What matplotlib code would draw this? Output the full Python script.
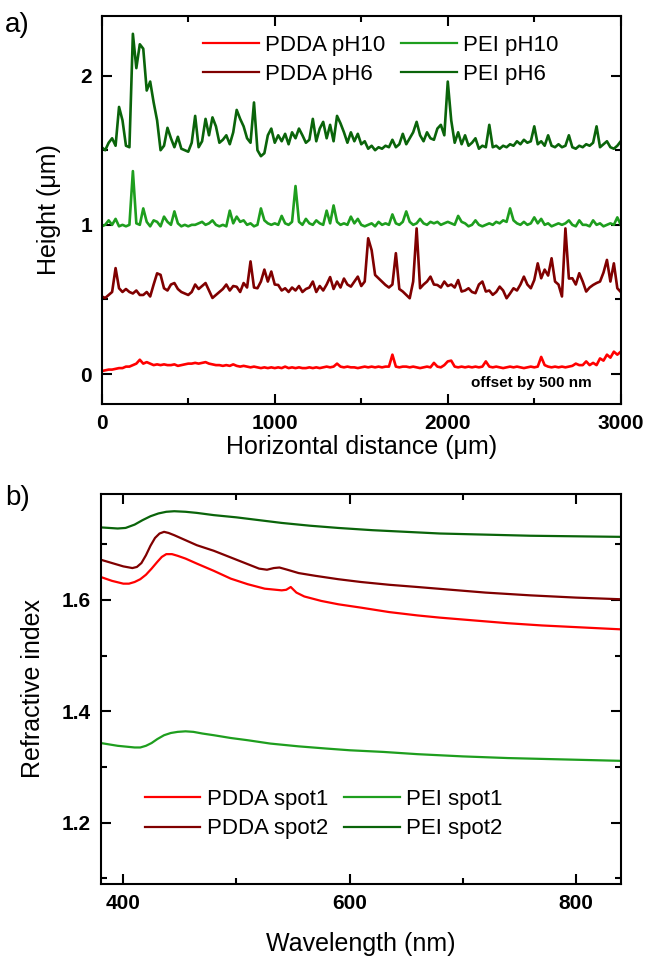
import numpy as np
import matplotlib
matplotlib.use("Agg")
import matplotlib.pyplot as plt
from matplotlib.ticker import MultipleLocator

plt.rcParams['font.family'] = ['Liberation Sans', 'DejaVu Sans']

# ---- panel a) height profiles, sampled every 20 um ----
dist = np.arange(0, 3001, 20)

pdda_ph10 = [0.02, 0.025, 0.03, 0.03, 0.035, 0.04, 0.04, 0.05, 0.05, 0.06,
             0.07, 0.096, 0.07, 0.08, 0.07, 0.06, 0.065, 0.06, 0.065, 0.06,
             0.06, 0.065, 0.055, 0.06, 0.065, 0.07, 0.07, 0.075, 0.07, 0.075,
             0.08, 0.07, 0.065, 0.06, 0.06, 0.055, 0.06, 0.055, 0.065, 0.055,
             0.05, 0.055, 0.05, 0.045, 0.05, 0.045, 0.04, 0.045, 0.04, 0.045,
             0.04, 0.045, 0.04, 0.05, 0.04, 0.045, 0.04, 0.045, 0.04, 0.04,
             0.045, 0.04, 0.045, 0.04, 0.045, 0.05, 0.045, 0.05, 0.07, 0.05,
             0.045, 0.05, 0.045, 0.045, 0.04, 0.045, 0.05, 0.045, 0.05, 0.045,
             0.05, 0.045, 0.05, 0.05, 0.13, 0.05, 0.045, 0.05, 0.05, 0.045,
             0.05, 0.045, 0.04, 0.045, 0.05, 0.045, 0.075, 0.05, 0.045, 0.06,
             0.085, 0.09, 0.05, 0.045, 0.05, 0.045, 0.05, 0.045, 0.05, 0.045,
             0.05, 0.085, 0.05, 0.045, 0.05, 0.045, 0.04, 0.045, 0.05, 0.045,
             0.05, 0.045, 0.04, 0.045, 0.05, 0.045, 0.05, 0.115, 0.06, 0.05,
             0.045, 0.05, 0.045, 0.05, 0.045, 0.05, 0.055, 0.07, 0.06, 0.06,
             0.085, 0.06, 0.075, 0.06, 0.105, 0.09, 0.13, 0.11, 0.15, 0.13,
             0.15]

pdda_ph6 = [0.52, 0.51, 0.53, 0.55, 0.71, 0.575, 0.55, 0.57, 0.55, 0.54,
            0.56, 0.53, 0.53, 0.55, 0.52, 0.60, 0.675, 0.665, 0.575, 0.56,
            0.60, 0.61, 0.57, 0.55, 0.54, 0.53, 0.55, 0.60, 0.57, 0.59,
            0.61, 0.56, 0.51, 0.53, 0.55, 0.57, 0.60, 0.56, 0.59, 0.585,
            0.55, 0.61, 0.58, 0.755, 0.58, 0.575, 0.62, 0.70, 0.62, 0.687,
            0.60, 0.597, 0.56, 0.575, 0.55, 0.58, 0.56, 0.59, 0.55, 0.57,
            0.58, 0.62, 0.55, 0.59, 0.56, 0.60, 0.65, 0.57, 0.62, 0.58,
            0.64, 0.60, 0.586, 0.62, 0.653, 0.59, 0.62, 0.91, 0.83, 0.664,
            0.642, 0.62, 0.597, 0.58, 0.60, 0.81, 0.57, 0.553, 0.53, 0.508,
            0.62, 0.976, 0.575, 0.60, 0.62, 0.653, 0.60, 0.597, 0.58, 0.62,
            0.59, 0.60, 0.58, 0.63, 0.553, 0.56, 0.575, 0.55, 0.542, 0.60,
            0.62, 0.553, 0.56, 0.531, 0.55, 0.586, 0.56, 0.508, 0.54, 0.575,
            0.56, 0.60, 0.653, 0.60, 0.575, 0.63, 0.742, 0.642, 0.70, 0.66,
            0.776, 0.62, 0.60, 0.52, 0.976, 0.64, 0.642, 0.60, 0.676, 0.62,
            0.553, 0.58, 0.597, 0.61, 0.62, 0.68, 0.765, 0.62, 0.742, 0.575,
            0.55]

pei_ph10 = [0.99, 1.00, 1.03, 1.00, 1.04, 0.99, 1.00, 0.99, 1.00, 1.36,
            1.01, 1.00, 1.11, 1.02, 0.99, 1.03, 1.02, 0.99, 1.055, 1.02,
            1.00, 1.09, 1.01, 0.99, 1.00, 0.99, 1.00, 1.00, 1.01, 1.02,
            1.00, 1.01, 1.03, 1.00, 0.99, 1.00, 0.99, 1.095, 1.01, 1.055,
            1.02, 1.03, 1.00, 1.01, 0.99, 1.00, 1.11, 1.03, 1.01, 1.00,
            1.01, 1.00, 1.06, 1.01, 1.00, 1.02, 1.26, 1.02, 1.00, 1.04,
            1.01, 1.00, 1.03, 1.01, 1.00, 1.095, 1.01, 1.13, 1.02, 1.00,
            1.01, 1.00, 1.055, 1.01, 1.04, 1.00, 0.99, 1.00, 1.01, 0.99,
            1.02, 1.00, 1.01, 1.00, 1.07, 1.01, 1.00, 1.02, 1.09, 1.02,
            1.00, 1.01, 1.04, 1.01, 1.00, 1.02, 1.01, 1.02, 1.00, 1.01,
            1.02, 1.01, 1.00, 1.06, 1.02, 1.01, 0.99, 1.00, 1.03, 1.00,
            0.99, 1.00, 1.01, 1.00, 1.02, 1.01, 1.03, 1.02, 1.11, 1.03,
            1.01, 1.00, 1.02, 1.00, 1.01, 1.05, 1.01, 1.04, 1.00, 1.01,
            0.99, 1.00, 1.01, 1.00, 1.01, 1.03, 1.00, 0.99, 1.03, 1.00,
            1.00, 0.99, 1.03, 1.00, 1.01, 0.99, 1.00, 1.01, 1.00, 1.05,
            1.00]

pei_ph6 = [1.52, 1.50, 1.55, 1.58, 1.53, 1.79, 1.70, 1.53, 1.52, 2.28,
           2.05, 2.21, 2.18, 1.90, 1.96, 1.82, 1.70, 1.50, 1.53, 1.65,
           1.58, 1.52, 1.59, 1.51, 1.50, 1.49, 1.55, 1.73, 1.52, 1.56,
           1.71, 1.60, 1.72, 1.66, 1.55, 1.57, 1.60, 1.54, 1.62, 1.77,
           1.71, 1.66, 1.58, 1.55, 1.82, 1.50, 1.46, 1.48, 1.60, 1.645,
           1.55, 1.60, 1.56, 1.61, 1.54, 1.62, 1.58, 1.645, 1.60, 1.55,
           1.57, 1.71, 1.56, 1.645, 1.69, 1.58, 1.67, 1.56, 1.73, 1.68,
           1.62, 1.55, 1.62, 1.56, 1.61, 1.54, 1.56, 1.51, 1.53, 1.50,
           1.52, 1.51, 1.53, 1.52, 1.57, 1.52, 1.54, 1.61, 1.54, 1.58,
           1.62, 1.69, 1.60, 1.56, 1.62, 1.58, 1.57, 1.645, 1.67, 1.60,
           1.96, 1.70, 1.55, 1.62, 1.54, 1.60, 1.53, 1.55, 1.58, 1.51,
           1.53, 1.52, 1.67, 1.52, 1.53, 1.51, 1.53, 1.52, 1.54, 1.53,
           1.56, 1.54, 1.57, 1.55, 1.56, 1.66, 1.54, 1.56, 1.53, 1.60,
           1.53, 1.52, 1.54, 1.52, 1.53, 1.60, 1.52, 1.51, 1.53, 1.52,
           1.54, 1.53, 1.55, 1.66, 1.52, 1.54, 1.56, 1.52, 1.51, 1.53,
           1.56]

# ---- panel b) refractive index dispersion ----
wl_pdda1 = [380, 390, 400, 405, 410, 415, 420, 425, 430, 434, 438, 443, 448, 455,
            465, 480, 495, 510, 525, 540, 544, 548, 553, 560, 575, 590, 610, 635,
            660, 680, 710, 740, 770, 800, 840]
n_pdda1 = [1.641, 1.634, 1.629, 1.629, 1.632, 1.637, 1.645, 1.656, 1.668, 1.677,
           1.682, 1.682, 1.679, 1.674, 1.665, 1.652, 1.638, 1.628, 1.620, 1.617,
           1.618, 1.623, 1.613, 1.606, 1.598, 1.592, 1.586, 1.578, 1.572, 1.568,
           1.563, 1.558, 1.554, 1.551, 1.547]

wl_pdda2 = [380, 390, 400, 408, 412, 416, 420, 424, 428, 432, 436, 440, 445, 455,
            465, 480, 495, 510, 520, 527, 533, 538, 545, 555, 570, 590, 610, 635,
            660, 690, 720, 760, 800, 840]
n_pdda2 = [1.672, 1.666, 1.660, 1.657, 1.659, 1.666, 1.680, 1.697, 1.711, 1.719,
           1.722, 1.720, 1.716, 1.707, 1.698, 1.688, 1.676, 1.664, 1.656, 1.654,
           1.657, 1.658, 1.654, 1.648, 1.643, 1.637, 1.632, 1.627, 1.623, 1.618,
           1.613, 1.608, 1.604, 1.601]

wl_pei1 = [380, 395, 410, 415, 420, 425, 430, 436, 442, 448, 455, 462, 470, 480,
           495, 510, 530, 555, 580, 600, 630, 660, 700, 740, 780, 840]
n_pei1 = [1.343, 1.338, 1.335, 1.335, 1.338, 1.343, 1.350, 1.357, 1.361, 1.363,
          1.364, 1.363, 1.360, 1.357, 1.352, 1.348, 1.342, 1.337, 1.333, 1.330,
          1.327, 1.323, 1.319, 1.316, 1.314, 1.311]

wl_pei2 = [380, 395, 402, 410, 417, 424, 431, 438, 445, 455, 465, 480, 500, 520,
           540, 565, 590, 620, 650, 680, 720, 760, 800, 840]
n_pei2 = [1.730, 1.728, 1.729, 1.735, 1.743, 1.750, 1.755, 1.758, 1.759, 1.758,
          1.756, 1.752, 1.748, 1.743, 1.738, 1.733, 1.729, 1.725, 1.722, 1.719,
          1.717, 1.715, 1.714, 1.713]

RED = '#ff0000'
WINE = '#800000'
GREEN = '#1e9e1e'
OLIVE = '#0a640a'


def style_axes(ax):
    for s in ax.spines.values():
        s.set_linewidth(1.5)
    ax.tick_params(which='both', direction='in', top=True, right=True, width=1.5)
    ax.tick_params(which='major', length=7, pad=7, labelsize=15)
    ax.tick_params(which='minor', length=4)
    for lab in ax.get_xticklabels() + ax.get_yticklabels():
        lab.set_fontweight('bold')


fig = plt.figure(figsize=(6.48, 9.64), dpi=100)

# panel a
ax1 = fig.add_axes([0.157, 0.581, 0.801, 0.4025])
ax1.plot(dist, pdda_ph10, color=RED, lw=1.9, label='PDDA pH10')
ax1.plot(dist, pdda_ph6, color=WINE, lw=1.9, label='PDDA pH6')
ax1.plot(dist, pei_ph10, color=GREEN, lw=1.9, label='PEI pH10')
ax1.plot(dist, pei_ph6, color=OLIVE, lw=1.9, label='PEI pH6')
ax1.set_xlim(0, 3000)
ax1.set_ylim(-0.2, 2.4)
ax1.xaxis.set_major_locator(MultipleLocator(1000))
ax1.xaxis.set_minor_locator(MultipleLocator(500))
ax1.yaxis.set_major_locator(MultipleLocator(1))
ax1.yaxis.set_minor_locator(MultipleLocator(0.5))
style_axes(ax1)
ax1.set_xlabel('Horizontal distance (μm)', fontsize=18, labelpad=2)
ax1.set_ylabel('Height (μm)', fontsize=18, labelpad=14)
leg1 = ax1.legend(ncol=2, loc='upper left', bbox_to_anchor=(0.195, 0.952), frameon=False,
                  fontsize=16, handlelength=2.5, handletextpad=0.3, columnspacing=0.7,
                  labelspacing=0.37, borderpad=0, borderaxespad=0)
for h in leg1.get_lines():
    h.set_linewidth(1.6)
ax1.text(2830, -0.06, 'offset by 500 nm', fontsize=11, fontweight='bold',
         ha='right', va='center')

# panel b
ax2 = fig.add_axes([0.1554, 0.083, 0.803, 0.4046])
ax2.plot(wl_pdda1, n_pdda1, color=RED, lw=1.6, label='PDDA spot1')
ax2.plot(wl_pdda2, n_pdda2, color=WINE, lw=1.6, label='PDDA spot2')
ax2.plot(wl_pei1, n_pei1, color=GREEN, lw=1.6, label='PEI spot1')
ax2.plot(wl_pei2, n_pei2, color=OLIVE, lw=1.6, label='PEI spot2')
ax2.set_xlim(380, 840)
ax2.set_ylim(1.09, 1.79)
ax2.xaxis.set_major_locator(MultipleLocator(200))
ax2.xaxis.set_minor_locator(MultipleLocator(100))
ax2.yaxis.set_major_locator(MultipleLocator(0.2))
ax2.yaxis.set_minor_locator(MultipleLocator(0.1))
style_axes(ax2)
ax2.set_xlabel('Wavelength (nm)', fontsize=18, labelpad=14)
ax2.set_ylabel('Refractive index', fontsize=18, labelpad=12)
ax2.legend(ncol=2, loc='upper left', bbox_to_anchor=(0.085, 0.243), frameon=False,
           fontsize=16, handlelength=2.5, handletextpad=0.3, columnspacing=0.7,
           labelspacing=0.37, borderpad=0, borderaxespad=0)

fig.text(0.008, 0.988, 'a)', fontsize=20, va='top')
fig.text(0.008, 0.497, 'b)', fontsize=20, va='top')

fig.savefig('out.png', dpi=100)
